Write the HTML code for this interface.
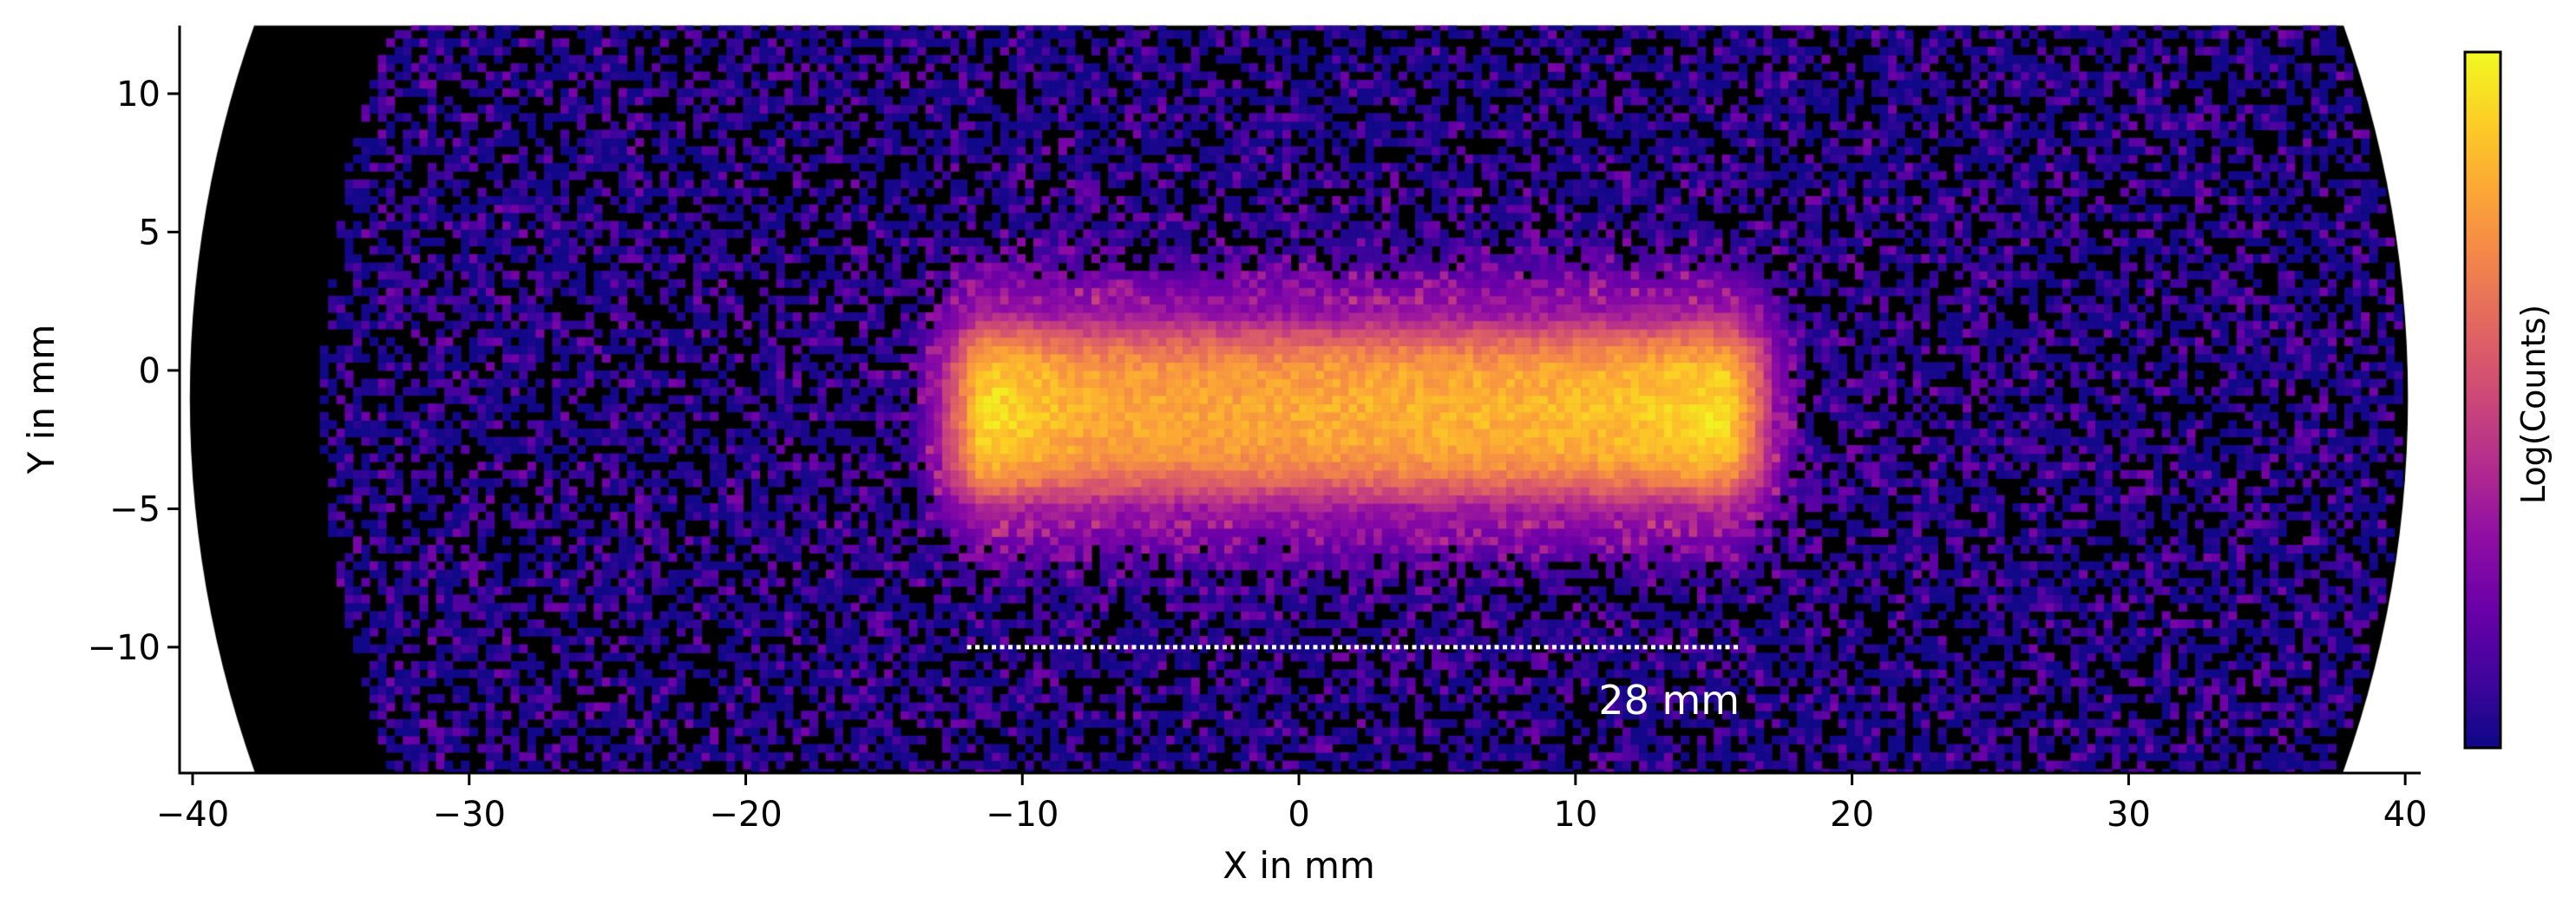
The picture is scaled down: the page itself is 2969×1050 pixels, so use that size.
<!DOCTYPE html>
<html><head><meta charset="utf-8">
<style>
html,body{margin:0;padding:0;background:#fff;}
#wrap{position:relative;width:2969px;height:1050px;overflow:hidden;}
canvas{position:absolute;left:0;top:0;}
svg{position:absolute;left:0;top:0;}
text{font-family:"DejaVu Sans","Liberation Sans",sans-serif;fill:#000;}
</style></head>
<body>
<div id="wrap">
<canvas id="heat" width="2969" height="1050"></canvas>
<svg id="ov" width="2969" height="1050"></svg>
</div>
<script>
// ---- data ----
const xTicks = [-40,-30,-20,-10,0,10,20,30,40];
const yTicks = [-10,-5,0,5,10];
const xRange = [-40.47, 40.56];
const yRange = [-14.55, 12.46];
// band along-axis level (log-count fraction) at positions
const bandXPos = [-13, -11, -8, -4, 0, 4, 8, 12, 15, 17];
const bandLevel = [0.84, 0.94, 0.82, 0.8, 0.81, 0.83, 0.84, 0.87, 0.94, 0.86];
// band end envelope
const edgeXPos = [-14.2, -13.2, -12.4, -11.6, 15.6, 16.6, 17.3, 18.5];
const edgeVal  = [0, 0.35, 0.7, 1, 1, 0.7, 0.35, 0];
// band cross-profile vs |y - centre|
const bandCenterY = -1.5;
const crossDist = [0, 1.5, 2.3, 2.9, 3.5, 4.3, 5.5, 7];
const crossVal  = [1, 0.95, 0.8, 0.62, 0.42, 0.28, 0.12, 0];
const bgLevel = 0.015;
const haloLevel = 0.09;
const scaleBar = {x0:-12, x1:16, y:-10, label:"28 mm"};

// ---- geometry ----
const L=207,R=2790,T=29.5,B=891;
const sx=v=>L+(v-xRange[0])/(xRange[1]-xRange[0])*(R-L);
const sy=v=>B-(v-yRange[0])/(yRange[1]-yRange[0])*(B-T);
function interp(xs,ys,x){if(x<=xs[0])return ys[0];if(x>=xs[xs.length-1])return ys[ys.length-1];
 for(let i=1;i<xs.length;i++){if(x<=xs[i]){const t=(x-xs[i-1])/(xs[i]-xs[i-1]);return ys[i-1]+t*(ys[i]-ys[i-1]);}}}
const plasma=[[13,8,135],[65,4,157],[106,0,168],[143,13,164],[177,42,144],[204,71,120],[225,100,98],[242,132,75],[252,166,54],[252,206,37],[240,249,33]];
function cmap(v){v=Math.max(0,Math.min(1,v));const f=v*10,i=Math.min(9,Math.floor(f)),t=f-i;const a=plasma[i],b=plasma[i+1];
 return `rgb(${Math.round(a[0]+t*(b[0]-a[0]))},${Math.round(a[1]+t*(b[1]-a[1]))},${Math.round(a[2]+t*(b[2]-a[2]))})`;}
function hash(i,j,s){let h=(i*374761393+j*668265263+s*2147483647)|0;h=(h^(h>>>13))*1274126177|0;h=h^(h>>>16);return ((h>>>0)%100000)/100000;}

const ctx=document.getElementById('heat').getContext('2d');
ctx.save();ctx.beginPath();ctx.rect(L,T,R-L,B-T);ctx.clip();
ctx.fillStyle='#000';ctx.beginPath();
const cx=sx(0),cy=sy(-1),rx=sx(40.1)-sx(0),ry=sy(-1)-sy(39.1);
ctx.ellipse(cx,cy,rx,ry,0,0,Math.PI*2);ctx.fill();
const bin=0.3;
for(let i=0;;i++){const x=-40.5+i*bin;if(x>40.5)break;
 for(let j=0;;j++){const y=-14.7+j*bin;if(y>12.6)break;
  const xc=x+bin/2,yc=y+bin/2;
  if(xc*xc+(yc+1)*(yc+1)>40.1*40.1)continue;
  if((xc-2.3)*(xc-2.3)+(yc+1)*(yc+1)>37.6*37.6)continue;
  const halo=haloLevel*Math.exp(-Math.pow((xc-2)/15,2)-Math.pow((yc-bandCenterY)/6,2));
  const band=interp(bandXPos,bandLevel,xc)*interp(edgeXPos,edgeVal,xc)*interp(crossDist,crossVal,Math.abs(yc-bandCenterY));
  let v=Math.max(bgLevel+halo,band);
  const h1=hash(i,j,1),h2=hash(i,j,2);
  let val;
  if(v<0.3){const pz=Math.max(0,0.38-2.2*(v-0.02));if(h2<pz)continue;val=v+h1*h1*h1*0.24-0.01;}
  else{val=v+(h1-0.5)*0.12;}
  ctx.fillStyle=cmap(val);
  const px0=sx(x),px1=sx(x+bin),py0=sy(y+bin),py1=sy(y);
  ctx.fillRect(px0,py0,px1-px0+0.6,py1-py0+0.6);
 }}
ctx.restore();

// ---- overlay ----
const NS='http://www.w3.org/2000/svg';const ov=document.getElementById('ov');
function mk(tag,at,txt){const e=document.createElementNS(NS,tag);for(const k in at)e.setAttribute(k,at[k]);if(txt!==undefined)e.textContent=txt;ov.appendChild(e);return e;}
let e;
e=mk('line',{x1:L,y1:T,x2:L,y2:B+1.5,stroke:'#000','stroke-width':3});


e=mk('line',{x1:L-1.5,y1:B,x2:R,y2:B,stroke:'#000','stroke-width':3});


xTicks.forEach(t=>{const x=sx(t);
 e=mk('line',{x1:x,y1:B,x2:x,y2:B+14,stroke:'#000','stroke-width':3});
 
 
 e=mk('text',{x:x,y:952,'text-anchor':'middle','font-size':40},t<0?'\u2212'+(-t):String(t));
 
 
});
yTicks.forEach(t=>{const y=sy(t);
 e=mk('line',{x1:L-14,y1:y,x2:L,y2:y,stroke:'#000','stroke-width':3});
 
 
 e=mk('text',{x:L-22,y:y+14,'text-anchor':'end','font-size':40},t<0?'\u2212'+(-t):String(t));
 
 
});
e=mk('text',{x:1497,y:1012,'text-anchor':'middle','font-size':42},'X in mm');


e=mk('text',{x:0,y:0,'text-anchor':'middle','font-size':42,transform:'translate(62,460) rotate(-90)'},'Y in mm');


e=mk('line',{x1:sx(scaleBar.x0),y1:sy(scaleBar.y),x2:sx(scaleBar.x1),y2:sy(scaleBar.y),stroke:'#fff','stroke-width':5,'stroke-dasharray':'5 4.5'});


e=mk('text',{x:sx(scaleBar.x1)-2,y:823,'text-anchor':'end','font-size':46,style:'fill:#fff'},scaleBar.label);


const defs=mk('defs',{});
const g=document.createElementNS(NS,'linearGradient');g.setAttribute('id','pl');g.setAttribute('x1','0');g.setAttribute('y1','1');g.setAttribute('x2','0');g.setAttribute('y2','0');
plasma.forEach((c,i)=>{const s=document.createElementNS(NS,'stop');s.setAttribute('offset',i/10);s.setAttribute('stop-color',`rgb(${c[0]},${c[1]},${c[2]})`);g.appendChild(s);});
defs.appendChild(g);
e=mk('rect',{x:2841,y:60,width:41,height:802,fill:'url(#pl)',stroke:'#000','stroke-width':3});


e=mk('text',{x:0,y:0,'text-anchor':'middle','font-size':38,transform:'translate(2933,466) rotate(-90)'},'Log(Counts)');


</script>
</body></html>
